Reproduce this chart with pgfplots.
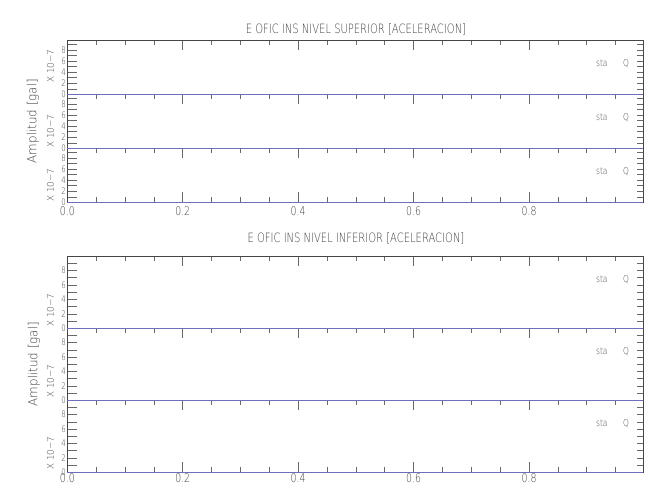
\documentclass[border=0pt]{standalone}
\usepackage{pgfplots}
\pgfplotsset{compat=1.18}
\usepackage{fontspec}
\newfontfamily\hfont{DejaVu Sans ExtraLight}[FakeStretch=0.78]
\newfontfamily\hfontw{DejaVu Sans ExtraLight}[FakeStretch=0.95]
\definecolor{frm}{RGB}{70,70,70}
\definecolor{tck}{RGB}{105,105,105}
\definecolor{txt}{RGB}{65,65,65}
\definecolor{ln}{RGB}{110,110,190}

\pgfplotsset{
  pbase/.style={scale only axis, width=576pt, anchor=south west,
    xmin=0, xmax=0.998, ymin=0, clip=false, tick align=inside,
    ytick={0,1,2,3,4,5,6,7,8,9},
    tick style={tck, line width=0.5pt},
    /pgf/number format/assume math mode=true,
    tick label style={font=\hfont\color{txt}}},
  pmain/.style={pbase, ytick pos=left,
    yticklabels={0,,2,,4,,6,,8,},
    yticklabel style={font=\hfont\fontsize{9}{10}\selectfont\color{txt}, inner sep=0pt, xshift=-1.2pt},
    major tick length=10pt, minor tick length=5pt,
    axis line style={frm, line width=0.6pt},
    xtick={0,0.2,0.4,0.6,0.8},
    minor xtick={0.05,0.1,0.15,0.25,0.3,0.35,0.45,0.5,0.55,0.65,0.7,0.75,0.85,0.9,0.95},
    xticklabel={\pgfmathprintnumber[fixed,precision=1,zerofill]{\tick}},
    xticklabel style={font=\hfont\fontsize{12}{13}\selectfont\color{txt}, inner sep=0pt}},
  pupper/.style={pmain, xtick pos=upper, xticklabels={}},
  plower/.style={pmain, xtick pos=both, xticklabel pos=lower},
  pright/.style={pbase, ytick pos=right, yticklabels={}, xtick=\empty,
    major tick length=6pt, axis line style={draw=none}},
}

\newcommand{\panel}[4]{%
  \begin{axis}[pright, at={(67.3pt,#1pt)}, height=#2pt, ymax=#3]
  \end{axis}
  \begin{axis}[#4, at={(67.3pt,#1pt)}, height=#2pt, ymax=#3]
    \addplot[ln, line width=0.8pt] coordinates {(0,0) (0.998,0)};
  \end{axis}%
}

\begin{document}
\begin{tikzpicture}[font=\hfont, text=txt]
\path[use as bounding box] (0pt,0pt) rectangle (650pt,500pt);

% ---- upper group (bottom panel first so upper lines cover boundaries)
\panel{297.7}{54}{9.75}{plower, xticklabel style={yshift=-4.5pt}}
\panel{351.7}{54}{9.75}{pupper}
\panel{405.7}{54}{9.75}{pupper}

% ---- lower group
\panel{27.7}{72}{10}{plower, xticklabel style={yshift=-1.2pt}}
\panel{99.7}{72}{10}{pupper}
\panel{171.7}{72.3}{10}{pupper}

% titles
\node[anchor=base, inner sep=0pt, font=\hfont\fontsize{12.8}{14}\selectfont] at (356pt,466pt)
  {E OFIC INS NIVEL SUPERIOR [ACELERACION]};
\node[anchor=base, inner sep=0pt, font=\hfont\fontsize{12.8}{14}\selectfont] at (356pt,257pt)
  {E OFIC INS NIVEL INFERIOR [ACELERACION]};

% y labels
\node[rotate=90, inner sep=0pt, font=\hfontw\fontsize{12.5}{14}\selectfont] at (33pt,379pt) {Amplitud [gal]};
\node[rotate=90, inner sep=0pt, font=\hfontw\fontsize{12.5}{14}\selectfont] at (34pt,136pt) {Amplitud [gal]};

\foreach \yy in {417,352,298,173,102,30}{
  \node[rotate=90, anchor=west, inner sep=0pt, font=\hfontw\fontsize{9.3}{10}\selectfont] at (50.5pt,\yy pt) {X 10−7};
}

% station labels
\foreach \yy in {433.5,379.5,325.5,217.5,145.5,73.5}{
  \node[anchor=base west, inner sep=0pt, font=\hfont\fontsize{9.5}{10}\selectfont] at (596pt,\yy pt) {sta};
  \node[anchor=base west, inner sep=0pt, font=\hfont\fontsize{9.5}{10}\selectfont] at (623pt,\yy pt) {Q};
}
\end{tikzpicture}
\end{document}
